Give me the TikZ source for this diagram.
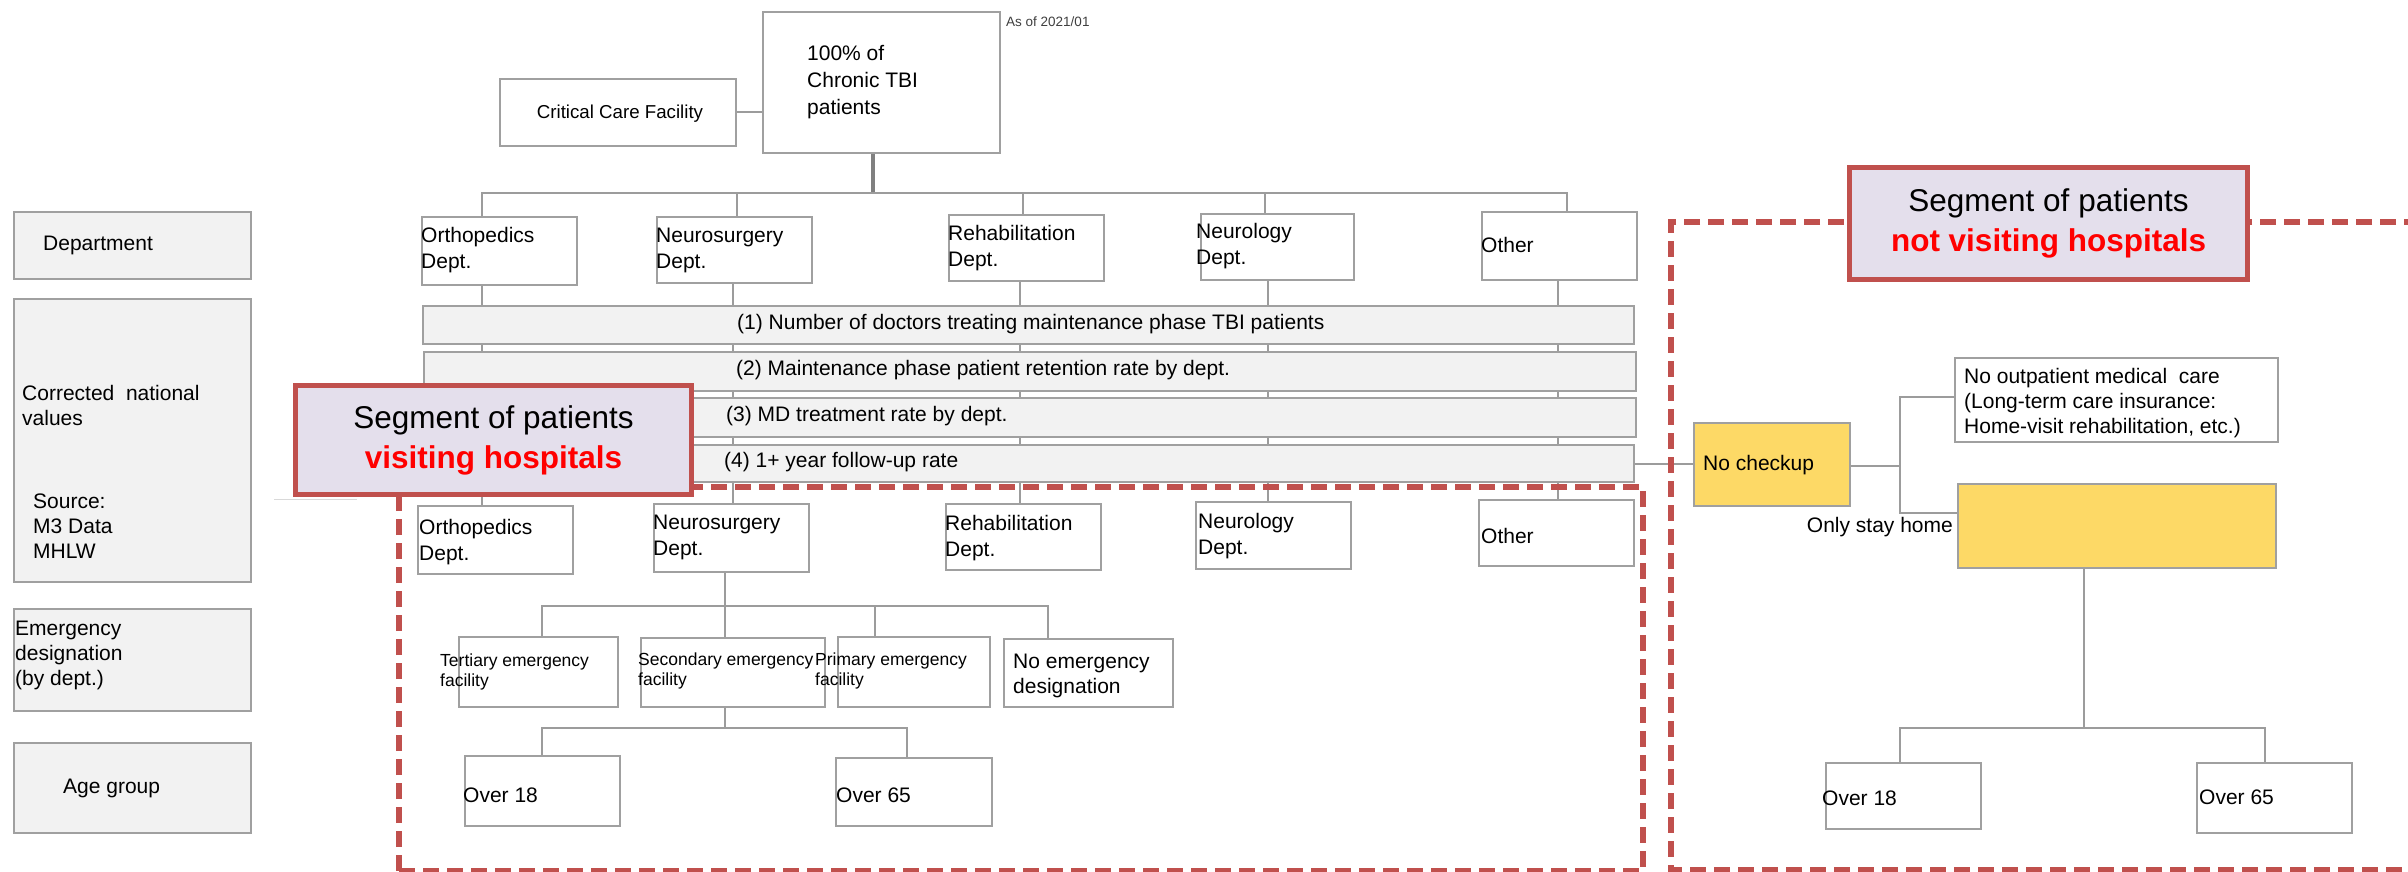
\documentclass[tikz,border=0pt]{standalone}
\usepackage{fontspec}
\setmainfont{Liberation Sans}
\usetikzlibrary{calc}
\definecolor{boxc}{HTML}{A0A0A0}
\definecolor{connc}{HTML}{9C9C9C}
\definecolor{thc}{HTML}{808080}
\definecolor{labfill}{HTML}{F2F2F2}
\definecolor{yel}{HTML}{FDD966}
\definecolor{segfill}{HTML}{E4DFEC}
\definecolor{segline}{HTML}{C0504D}
\definecolor{segred}{HTML}{FF0000}
\newcommand\myfs[2]{\fontsize{#1}{#2}\selectfont}
\begin{document}
\begin{tikzpicture}[x=1pt,y=-1pt,
  bx/.style={draw=boxc, line width=2pt, anchor=north west, inner sep=0pt, fill=white},
  lab/.style={bx, fill=labfill},
  yb/.style={bx, fill=yel},
  txt/.style={anchor=west, inner sep=0pt, align=left, font=\myfs{21}{25}},
  conn/.style={draw=connc, line width=2pt},
  thconn/.style={draw=thc, line width=3.5pt},
  segbox/.style={draw=segline, line width=5pt, fill=segfill, anchor=north west, inner sep=0pt},
  segtxt/.style={inner sep=0pt, align=center, font=\myfs{31.5}{40}},
  reddash/.style={draw=segline, line width=5.5pt, dash pattern=on 16pt off 8pt}
]
\useasboundingbox (0,0) rectangle (2408,872);
\fill[white] (0,0) rectangle (2408,872);

% ---------- left label boxes ----------
\node[lab, minimum width=237pt, minimum height=67pt] (lab1) at (13,211) {};
\node[lab, minimum width=237pt, minimum height=283pt] (lab2) at (13,298) {};
\node[lab, minimum width=237pt, minimum height=102pt] (lab3) at (13,608) {};
\node[lab, minimum width=237pt, minimum height=90pt] (lab4) at (13,742) {};
\node[txt] (tl1) at (43,245) {Department};
\node[txt] (tl2) at (22,405.5) {Corrected\ \ national\\values};
\node[txt] (tl2b) at (33,526) {Source:\\M3 Data\\MHLW};
\node[txt] (tl3) at (15,655) {Emergency\\designation\\(by dept.)};
\node[txt] (tl4) at (63,788) {Age group};

% ---------- coordinates for connectors ----------
\coordinate (tJ) at (873,193);
\coordinate (tA) at (482,193);
\coordinate (tB) at (737,193);
\coordinate (tC) at (1023,193);
\coordinate (tD) at (1265,193);
\coordinate (tE) at (1567,193);
\coordinate (cA) at (482,0);
\coordinate (cB) at (733,0);
\coordinate (cC) at (1020,0);
\coordinate (cD) at (1268,0);
\coordinate (cE) at (1558,0);
\coordinate (eJ) at (725,606);
\coordinate (eA) at (542,606);
\coordinate (eC) at (875,606);
\coordinate (eD) at (1048,606);
\coordinate (aJ) at (725,728);
\coordinate (aA) at (542,728);
\coordinate (aB) at (907,728);
\coordinate (rJ) at (1900,466);
\coordinate (rT) at (1900,397);
\coordinate (rB) at (1900,513);
\coordinate (yJ) at (2084,728);
\coordinate (yA) at (1900,728);
\coordinate (yB) at (2265,728);

% ---------- top ----------
\node[bx, minimum width=236pt, minimum height=67pt] (crit) at (499,78) {};
\node[inner sep=0pt, font=\myfs{18.7}{22}] (tcrit) at (620,114) {Critical Care Facility};
\node[bx, minimum width=237pt, minimum height=141pt] (top) at (762,11) {};
\node[txt, font=\myfs{21}{27}] (ttop) at (807,82) {100\% of\\Chronic TBI\\patients};
\node[txt, font=\myfs{13.5}{16}, text=black!75] (asof) at (1006,22) {As of 2021/01};

% ---------- upper departments ----------
\node[bx, minimum width=155pt, minimum height=68pt] (ortho) at (421,216) {};
\node[bx, minimum width=155pt, minimum height=66pt] (neuro) at (656,216) {};
\node[bx, minimum width=155pt, minimum height=66pt] (rehab) at (948,214) {};
\node[bx, minimum width=153pt, minimum height=66pt] (neurol) at (1200,213) {};
\node[bx, minimum width=155pt, minimum height=68pt] (other) at (1481,211) {};

% ---------- lower departments ----------
\node[bx, minimum width=155pt, minimum height=68pt] (ortho2) at (417,505) {};
\node[bx, minimum width=155pt, minimum height=68pt] (neuro2) at (653,503) {};
\node[bx, minimum width=155pt, minimum height=66pt] (rehab2) at (945,503) {};
\node[bx, minimum width=155pt, minimum height=67pt] (neurol2) at (1195,501) {};
\node[bx, minimum width=155pt, minimum height=66pt] (other2) at (1478,499) {};

% ---------- emergency + age ----------
\node[bx, minimum width=159pt, minimum height=70pt] (tert) at (458,636) {};
\node[bx, minimum width=184pt, minimum height=69pt] (sec) at (640,637) {};
\node[bx, minimum width=152pt, minimum height=70pt] (prim) at (837,636) {};
\node[bx, minimum width=169pt, minimum height=68pt] (noem) at (1003,638) {};
\node[bx, minimum width=155pt, minimum height=70pt] (o18) at (464,755) {};
\node[bx, minimum width=156pt, minimum height=68pt] (o65) at (835,757) {};

% ---------- right side ----------
\node[yb, minimum width=156pt, minimum height=83pt] (nock) at (1693,422) {};
\node[bx, minimum width=323pt, minimum height=84pt] (noout) at (1954,357) {};
\node[yb, minimum width=318pt, minimum height=84pt] (yel2) at (1957,483) {};
\node[bx, minimum width=155pt, minimum height=66pt] (o18R) at (1825,762) {};
\node[bx, minimum width=155pt, minimum height=70pt] (o65R) at (2196,762) {};

% ---------- connectors ----------
\begin{scope}[on background layer/.style={}]
\draw[conn] (crit.east) -- (top.west |- crit.east);
\draw[thconn] (top.south -| tJ) -- (tJ);
\draw[conn] (ortho.north -| tA) -- (tA) -- (tE) -- (other.north -| tE);
\draw[conn] (tB) -- (neuro.north -| tB);
\draw[conn] (tC) -- (rehab.north -| tC);
\draw[conn] (tD) -- (neurol.north -| tD);
\draw[conn] (ortho.south -| cA) -- (ortho2.north -| cA);
\draw[conn] (neuro.south -| cB) -- (neuro2.north -| cB);
\draw[conn] (rehab.south -| cC) -- (rehab2.north -| cC);
\draw[conn] (neurol.south -| cD) -- (neurol2.north -| cD);
\draw[conn] (other.south -| cE) -- (other2.north -| cE);
\draw[conn] (neuro2.south -| eJ) -- (eJ) -- (sec.north -| eJ);
\draw[conn] (tert.north -| eA) -- (eA) -- (eD) -- (noem.north -| eD);
\draw[conn] (eC) -- (prim.north -| eC);
\draw[conn] (sec.south -| aJ) -- (aJ);
\draw[conn] (o18.north -| aA) -- (aA) -- (aB) -- (o65.north -| aB);
\draw[conn] (nock.east |- rJ) -- (rJ);
\draw[conn] (noout.west |- rT) -- (rT) -- (rB) -- (yel2.west |- rB);
\draw[conn] (yel2.south -| yJ) -- (yJ);
\draw[conn] (o18R.north -| yA) -- (yA) -- (yB) -- (o65R.north -| yB);
\end{scope}

% ---------- bars (drawn over column lines) ----------
\node[lab, minimum width=1211pt, minimum height=38pt] (bar1) at (422,305) {};
\node[lab, minimum width=1212pt, minimum height=39pt] (bar2) at (423,351) {};
\node[lab, minimum width=1212pt, minimum height=39pt] (bar3) at (423,397) {};
\node[lab, minimum width=1211pt, minimum height=37pt] (bar4) at (422,444) {};
\draw[conn] (bar4.east) -- (nock.west |- bar4.east);
\node[txt] (tb1) at (737,324) {(1) Number of doctors treating maintenance phase TBI patients};
\node[txt] (tb2) at (736,370) {(2) Maintenance phase patient retention rate by dept.};
\node[txt] (tb3) at (726,416) {(3) MD treatment rate by dept.};
\node[txt] (tb4) at (724,462) {(4) 1+ year follow-up rate};

% ---------- texts in boxes ----------
\node[txt, font=\myfs{21}{26}] (to1) at (421,250) {Orthopedics\\Dept.};
\node[txt, font=\myfs{21}{26}] (to2) at (656,250) {Neurosurgery\\Dept.};
\node[txt, font=\myfs{21}{26}] (to3) at (948,248) {Rehabilitation\\Dept.};
\node[txt, font=\myfs{21}{26}] (to4) at (1196,246) {Neurology\\Dept.};
\node[txt] (to5) at (1481,245) {Other};
\node[txt, font=\myfs{21}{26}] (tu1) at (419,542) {Orthopedics\\Dept.};
\node[txt, font=\myfs{21}{26}] (tu2) at (653,537.5) {Neurosurgery\\Dept.};
\node[txt, font=\myfs{21}{26}] (tu3) at (945,538.5) {Rehabilitation\\Dept.};
\node[txt, font=\myfs{21}{26}] (tu4) at (1198,536.5) {Neurology\\Dept.};
\node[txt] (tu5) at (1481,536) {Other};
\node[txt, font=\myfs{17.5}{20}] (te1) at (440,672) {Tertiary emergency\\facility};
\node[txt, font=\myfs{17.5}{20}] (te2) at (638,670.5) {Secondary emergency\\facility};
\node[txt, font=\myfs{17.5}{20}] (te3) at (815,671) {Primary emergency\\facility};
\node[txt] (te4) at (1013,675.5) {No emergency\\designation};
\node[txt] (ta1) at (463,795) {Over 18};
\node[txt] (ta2) at (836,795) {Over 65};
\node[txt] (tr1) at (1703,465) {No checkup};
\node[txt] (tr2) at (1964,403) {No outpatient medical\ \ care\\(Long-term care insurance:\\Home-visit rehabilitation, etc.)};
\node[anchor=east, inner sep=0pt, font=\myfs{21}{25}] (tr3) at (1953,527) {Only stay home};
\node[txt] (tr4) at (1822,798) {Over 18};
\node[txt] (tr5) at (2199,797) {Over 65};

\draw[draw=black!15, line width=1pt] (274,499) -- (357,499);

% ---------- dashed segment frames ----------
\draw[reddash] (399,871) -- (399,487) -- (1643,487) -- (1643,871) -- cycle;
\draw[reddash] (2420,222) -- (1671,222) -- (1671,870) -- (2420,870);

% ---------- segment labels ----------
\node[segbox, minimum width=396pt, minimum height=109pt] (segA) at (293,383) {};
\node[segtxt] (segAt) at (segA.center) {Segment of patients\\{\color{segred}\bfseries visiting hospitals}};
\node[segbox, minimum width=398pt, minimum height=112pt] (segB) at (1847,165) {};
\node[segtxt] (segBt) at (segB.center) {Segment of patients\\{\color{segred}\bfseries not visiting hospitals}};
\end{tikzpicture}
\end{document}
